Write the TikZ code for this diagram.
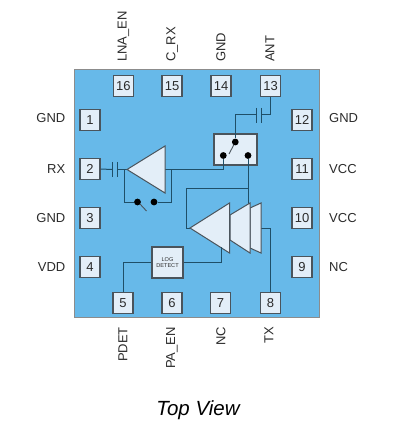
\documentclass[tikz,border=0pt]{standalone}
\usepackage{fontspec}
\setmainfont{Liberation Sans}
\definecolor{chipblue}{HTML}{67B9E9}
\definecolor{pale}{HTML}{E3EEF8}
\definecolor{edge}{HTML}{4A545C}
\definecolor{wire}{HTML}{1F4F68}
\definecolor{txt}{HTML}{2B2B2B}
\tikzset{
  pinbox/.style={draw=edge,line width=1.1pt,fill=pale,minimum width=20pt,minimum height=21pt,inner sep=0pt,text=txt,font=\fontsize{13}{13}\selectfont},
  lab/.style={inner sep=0pt,text=txt,font=\fontsize{13}{13}\selectfont},
  wr/.style={draw=wire,line width=1pt},
  amp/.style={draw=edge,line width=1pt,fill=pale,line join=miter},
  dotn/.style={circle,fill=black,inner sep=0pt,minimum size=6.8pt},
  blk/.style={draw=edge,line width=1.1pt,fill=pale,inner sep=0pt},
}
\begin{document}
\begin{tikzpicture}[x=1pt,y=-1pt]
\useasboundingbox (0,0) rectangle (417,430);
\node[draw=black!45,line width=1pt,fill=chipblue,minimum width=245pt,minimum height=247pt,inner sep=0pt] (chip) at (196.5,193.5) {};
% pins
\foreach \n/\x/\y in {16/123.3/86,15/172/86,14/221/86,13/270.5/86,5/123/303,6/172/303,7/220.5/303,8/270.5/303,1/90/120,2/90/169,3/90/218,4/90/267,12/302/120,11/302/169,10/302/218,9/302/267}
  \node[pinbox] (p\n) at (\x,\y) {\n};
% labels
\foreach \t/\y/\n in {GND/118/a,RX/169/b,GND/218/c,VDD/267/d}
  \node[lab,anchor=east] (l\n) at (65.5,\y) {\t};
\foreach \t/\y/\n in {GND/118/e,VCC/169/f,VCC/218/g,NC/267/h}
  \node[lab,anchor=west] (l\n) at (329,\y) {\t};
\foreach \t/\x/\n in {LNA\_EN/123.5/i,C\_RX/172/j,GND/221/k,ANT/270/l}
  \node[lab,rotate=90,anchor=west] (l\n) at (\x,62) {\t};
\foreach \t/\x/\n in {PDET/123/m,PA\_EN/172/o,NC/221/p,TX/269/q}
  \node[lab,rotate=90,anchor=east] (l\n) at (\x,327) {\t};
\node[inner sep=0pt,text=black,font=\fontsize{20.5}{20.5}\selectfont\itshape] (title) at (198,410) {Top View};
% switch box
\node[blk,minimum width=43pt,minimum height=31pt,fill=pale] (sw) at (235.5,149.5) {};
\node[dotn] (swa) at (223.3,155.5) {};
\node[dotn] (swb) at (248,155.5) {};
\node[dotn] (swc) at (235.3,142) {};
\coordinate (swarm) at (229,154);
\draw[draw=edge,line width=0.9pt] (swc) -- (swarm);
% antenna path with cap
\draw[wr] (p13.south) -- (270.5,115) -- (261,115);
\draw[wr] (256,108) -- (256,123);
\draw[wr] (261,108) -- (261,123);
\draw[wr] (256,115) -| (swc);
% RX amplifier
\draw[wr] (p2.east) -- (112,169.5);
\draw[wr] (112,162) -- (112,177);
\draw[wr] (117,162) -- (117,177);
\node[dotn] (bpa) at (137.5,202) {};
\node[dotn] (bpb) at (154,202) {};
\draw[wr] (117,169.5) -- (127,169.5);
\draw[wr] (124,169.5) |- (bpa);
\draw[wr] (bpb) -| (171,169.5);
\draw[wr] (165,169.5) -| (swa);
\draw[draw=edge,line width=0.9pt] (140,204) -- (146.5,211);
\draw[amp] (127,169.5) -- (165,146) -- (165,193) -- cycle;
% PA
\draw[wr] (swb) -- (248,212);
\draw[wr] (248,189) -- (186,189) -- (186,228) -- (192,228);
\draw[wr] (261,228) -- (270.5,228) -- (p8.north);
\draw[amp] (250,208) -- (261,203) -- (261,253) -- (250,248) -- cycle;
\draw[amp] (230,215) -- (250,203) -- (250,253) -- (230,240) -- cycle;
\draw[amp] (190,228) -- (229.5,203) -- (229.5,253) -- cycle;
% log detect
\node[blk,minimum width=31pt,minimum height=31pt,align=center,text=txt,font=\fontsize{5.6}{6.4}\selectfont] (log) at (167.5,262.5) {LOG\\DETECT};
\draw[wr] (log.east) -- (221,262.5) -- (221,247);
\draw[wr] (log.west) -| (p5.north);
\end{tikzpicture}
\end{document}
